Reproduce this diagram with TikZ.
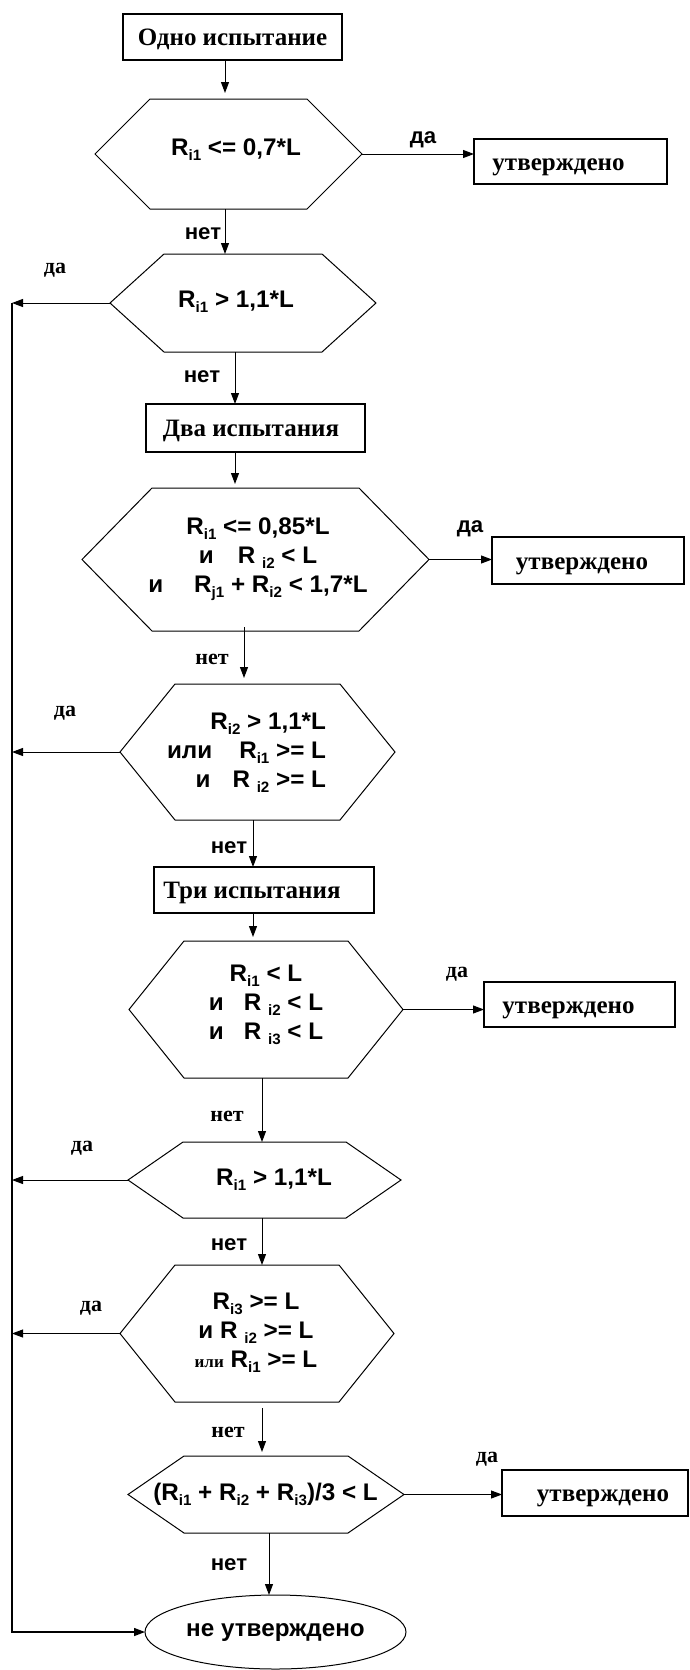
\documentclass[tikz,border=0pt]{standalone}
\usepackage{fontspec}
\setmainfont{Liberation Serif}
\newfontfamily\condf{Liberation Sans}[FakeStretch=1.01]
\usetikzlibrary{arrows.meta,shapes.geometric}
\newcommand{\sbs}[1]{\raisebox{-5pt}{\fontsize{15}{15}\selectfont #1}}
\newcommand{\txl}[2]{\hspace*{-#1}#2}
\newcommand{\txr}[2]{#2\hspace*{-#1}}
\newcommand{\hexo}[2]{\draw[hexline] (#1.west) -- ([xshift=#2]#1.north west) -- ([xshift=-#2]#1.north east) -- (#1.east) -- ([xshift=-#2]#1.south east) -- ([xshift=#2]#1.south west) -- cycle;}
\tikzset{
  every node/.style={inner sep=0pt, outer sep=0pt},
  hexbox/.style={draw=none, rectangle},
  stepbox/.style={draw, line width=1.2pt, rectangle, text height=17pt, text depth=0pt, font=\fontsize{25}{30}\selectfont\bfseries},
  cond/.style={align=center, font=\condf\fontsize{24}{29}\selectfont\bfseries},
  slab/.style={font=\condf\fontsize{22}{26}\selectfont\bfseries},
  rlab/.style={font=\fontsize{22}{26}\selectfont\bfseries},
  arr/.style={line width=1pt, -{Triangle[length=11pt,width=8pt]}},
  hexline/.style={line width=1pt},
  railline/.style={line width=1.4pt},
  endell/.style={draw, ellipse, line width=1pt, font=\condf\fontsize{24}{28}\selectfont\bfseries},
}
\begin{document}
\begin{tikzpicture}[x=1pt,y=-1pt]
\fill[white] (0,0) rectangle (690,1670);
\useasboundingbox (0,0) rectangle (690,1670);
% column coordinates
\coordinate (xa) at (225,0);
\coordinate (xb) at (235,0);
\coordinate (xc) at (244,0);
\coordinate (xd) at (253,0);
\coordinate (xe) at (262,0);
\coordinate (xf) at (269,0);
\coordinate (rail) at (12,0);
% boxes
\node[stepbox, minimum width=219, minimum height=46] (b1) at (232.5,37) {Одно испытание};
\node[stepbox, minimum width=193, minimum height=45] (u1) at (570.5,161.5) {\txl{24pt}{утверждено}};
\node[stepbox, minimum width=219, minimum height=48] (b2) at (255.5,428) {\txl{9pt}{Два испытания}};
\node[stepbox, minimum width=192, minimum height=47] (u2) at (588,560.5) {\txl{12pt}{утверждено}};
\node[stepbox, minimum width=220, minimum height=46] (b3) at (264,890) {\txl{24pt}{Три испытания}};
\node[stepbox, minimum width=191, minimum height=45] (u3) at (579.5,1004.5) {\txl{22pt}{утверждено}};
\node[stepbox, minimum width=186, minimum height=46] (u4) at (595,1493) {\txr{16pt}{утверждено}};
\node[endell, minimum width=261, minimum height=74] (ell) at (275.5,1632) {не утверждено};
% hexagons
\node[hexbox, minimum width=267, minimum height=110] (h1) at (228.5,154) {};
\node[hexbox, minimum width=266, minimum height=98] (h2) at (243,303) {};
\node[hexbox, minimum width=347, minimum height=143] (h3) at (255.5,559.5) {};
\node[hexbox, minimum width=275, minimum height=136] (h4) at (257.5,752) {};
\node[hexbox, minimum width=274, minimum height=137] (h5) at (266,1009.5) {};
\node[hexbox, minimum width=273, minimum height=76] (h6) at (264.5,1180) {};
\node[hexbox, minimum width=274, minimum height=137] (h7) at (257,1333.5) {};
\node[hexbox, minimum width=276, minimum height=77] (h8) at (266,1494.5) {};
\hexo{h1}{55}
\hexo{h2}{54}
\hexo{h3}{70}
\hexo{h4}{55}
\hexo{h5}{55}
\hexo{h6}{55}
\hexo{h7}{55}
\hexo{h8}{56}
% hexagon texts
\node[cond] (t1) at (236,150) {R\sbs{i1} <= 0,7*L};
\node[cond] (t2) at (236,302) {R\sbs{i1} > 1,1*L};
\node[cond] (t3) at (258,559) {R\sbs{i1} <= 0,85*L\\
  и\hspace{24pt}R \sbs{i2} < L\\
  и\hspace{31pt}R\sbs{j1} + R\sbs{i2} < 1,7*L};
\node[cond, align=right, anchor=east] (t4) at (326,753) {R\sbs{i2} > 1,1*L\\
  или\hspace{27pt}R\sbs{i1} >= L\\
  и\hspace{22pt}R \sbs{i2} >= L};
\node[cond] (t5) at (266,1005) {R\sbs{i1} < L\\
  и\hspace{20pt}R \sbs{i2} < L\\
  и\hspace{20pt}R \sbs{i3} < L};
\node[cond] (t6) at (274,1180) {R\sbs{i1} > 1,1*L};
\node[cond] (t7) at (256,1333) {R\sbs{i3} >= L\\
  и R \sbs{i2} >= L\\
  {\rmfamily\fontsize{17}{20}\selectfont\bfseries или} R\sbs{i1} >= L};
\node[cond] (t8) at (265.5,1494) {(R\sbs{i1} + R\sbs{i2} + R\sbs{i3})/3 < L};
% labels
\node[slab] (l1) at (423,140) {да};
\node[slab] (n1) at (203,234) {нет};
\node[rlab] (l2) at (55,270) {да};
\node[slab] (n2) at (202,377) {нет};
\node[slab] (l3) at (470,529) {да};
\node[rlab] (n3) at (212,659) {нет};
\node[rlab] (l4) at (65,713) {да};
\node[slab] (n4) at (229,848) {нет};
\node[rlab] (l5) at (457,974) {да};
\node[rlab] (n5) at (227,1116) {нет};
\node[rlab] (l6) at (82,1148) {да};
\node[slab] (n6) at (229,1245) {нет};
\node[rlab] (l7) at (91,1308) {да};
\node[rlab] (n7) at (228,1432) {нет};
\node[rlab] (l8) at (487,1459) {да};
\node[slab] (n8) at (229,1565) {нет};
% vertical flow
\draw[arr] (b1.south -| xa) -- ([yshift=6]h1.north -| xa);
\draw[arr] (h1.south -| xa) -- (h2.north -| xa);
\draw[arr] (h2.south -| xb) -- (b2.north -| xb);
\draw[arr] (b2.south -| xb) -- ([yshift=4]h3.north -| xb);
\draw[arr] ([yshift=4]h3.south -| xc) -- ([yshift=6]h4.north -| xc);
\draw[arr] (h4.south -| xd) -- (b3.north -| xd);
\draw[arr] (b3.south -| xd) -- ([yshift=4]h5.north -| xd);
\draw[arr] (h5.south -| xe) -- (h6.north -| xe);
\draw[arr] (h6.south -| xe) -- (h7.north -| xe);
\draw[arr] ([yshift=-6]h7.south -| xe) -- ([yshift=4]h8.north -| xe);
\draw[arr] (h8.south -| xf) -- (ell.north -| xf);
% yes branches to the right
\draw[arr] (h1.east) -- (h1.east -| u1.west);
\draw[arr] (h3.east) -- (h3.east -| u2.west);
\draw[arr] (h5.east) -- (h5.east -| u3.west);
\draw[arr] (h8.east) -- (h8.east -| u4.west);
% yes branches to the left rail
\draw[arr] (h2.west) -- (h2.west -| rail);
\draw[arr] (h4.west) -- (h4.west -| rail);
\draw[arr] (h6.west) -- (h6.west -| rail);
\draw[arr] (h7.west) -- (h7.west -| rail);
\draw[railline, -{Triangle[length=11pt,width=8pt]}] (h2.west -| rail) |- (ell.west);
\end{tikzpicture}
\end{document}
